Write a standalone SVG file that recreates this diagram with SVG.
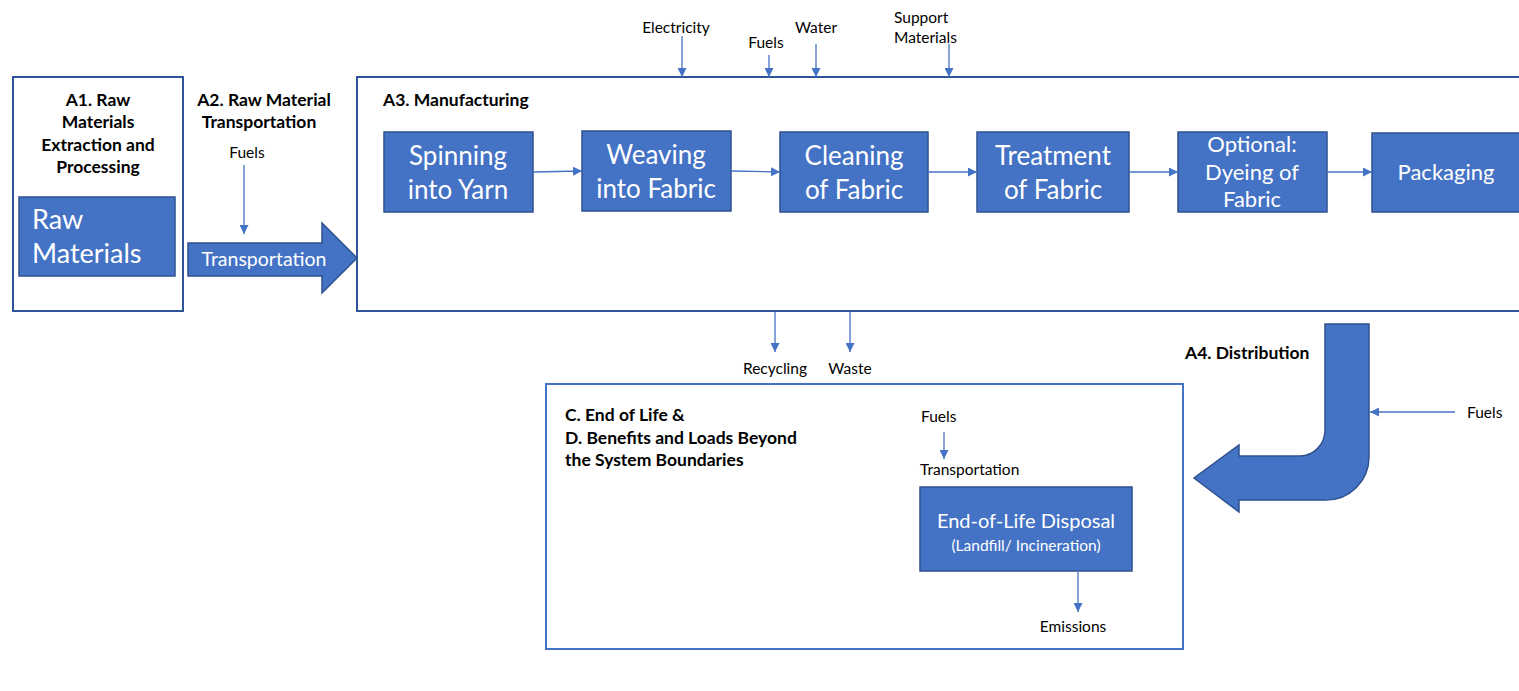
<svg xmlns="http://www.w3.org/2000/svg" width="1519" height="691" viewBox="0 0 1519 691">
<defs>
<marker id="ah" viewBox="0 0 10 10" refX="10" refY="5" markerWidth="9" markerHeight="9" markerUnits="userSpaceOnUse" orient="auto">
<path d="M0,0 L10,5 L0,10 Z" fill="#4472C4"/>
</marker>
<style>
.frame{fill:#fff;stroke:#2F5597;stroke-width:2}
.frame2{fill:#fff;stroke:#4472C4;stroke-width:2}
.box{fill:#4472C4;stroke:#2F528F;stroke-width:1.5}
.conn{stroke:#4472C4;stroke-width:1.3;fill:none;marker-end:url(#ah)}
.t{font-family:Lato,"Open Sans",sans-serif;fill:#000}
.lbl{font-size:15.5px}
.hd{font-size:17.5px;font-weight:bold}
.w{font-family:Lato,"Open Sans",sans-serif;fill:#fff}
.big{font-size:26px}
.mid{font-size:22px}
</style>
</defs>
<rect width="1519" height="691" fill="#fff"/>

<g id="a1">
<rect class="frame" x="13" y="77" width="170" height="234"/>
<text class="t hd" text-anchor="middle"><tspan x="98" y="106">A1. Raw</tspan><tspan x="98" y="128">Materials</tspan><tspan x="98" y="151">Extraction and</tspan><tspan x="98" y="173">Processing</tspan></text>
</g>
<g id="raw-materials">
<rect class="box" x="19" y="197" width="156" height="79"/>
<text class="w" font-size="27"><tspan x="32" y="229">Raw</tspan><tspan x="32" y="263">Materials</tspan></text>
</g>

<g id="a2">
<text class="t hd" text-anchor="middle"><tspan x="264" y="106">A2. Raw Material</tspan><tspan x="259" y="128">Transportation</tspan></text>
<text class="t lbl" x="247" y="158" text-anchor="middle">Fuels</text>
</g>
<g id="transportation">
<path class="box" d="M188,243 L322,243 L322,223 L357,258 L322,293 L322,276 L188,276 Z"/>
<text class="w" font-size="19.5" x="264" y="266" text-anchor="middle">Transportation</text>
</g>

<g id="a3">
<rect class="frame" x="357" y="77" width="1175" height="234"/>
<text class="t hd" x="383" y="106">A3. Manufacturing</text>
</g>
<g id="spinning">
<rect class="box" x="384" y="132" width="149" height="80"/>
<text class="w big" text-anchor="middle"><tspan x="458" y="165">Spinning</tspan><tspan x="458" y="199">into Yarn</tspan></text>
</g>
<g id="weaving">
<rect class="box" x="582" y="131" width="149" height="80"/>
<text class="w big" text-anchor="middle"><tspan x="656" y="164">Weaving</tspan><tspan x="656" y="198">into Fabric</tspan></text>
</g>
<g id="cleaning">
<rect class="box" x="780" y="132" width="148" height="80"/>
<text class="w big" text-anchor="middle"><tspan x="854" y="165">Cleaning</tspan><tspan x="854" y="199">of Fabric</tspan></text>
</g>
<g id="treatment">
<rect class="box" x="977" y="132" width="152" height="80"/>
<text class="w big" text-anchor="middle"><tspan x="1053" y="165">Treatment</tspan><tspan x="1053" y="199">of Fabric</tspan></text>
</g>
<g id="dyeing">
<rect class="box" x="1178" y="132" width="149" height="80"/>
<text class="w mid" text-anchor="middle"><tspan x="1252" y="152">Optional:</tspan><tspan x="1252" y="180">Dyeing of</tspan><tspan x="1252" y="207">Fabric</tspan></text>
</g>
<g id="packaging">
<rect class="box" x="1372" y="133" width="160" height="79"/>
<text class="w mid" x="1446" y="180" text-anchor="middle">Packaging</text>
</g>

<g id="inputs">
<text class="t lbl" x="676" y="33" text-anchor="middle">Electricity</text>
<text class="t lbl" x="766" y="48" text-anchor="middle">Fuels</text>
<text class="t lbl" x="816" y="33" text-anchor="middle">Water</text>
<text class="t lbl"><tspan x="894" y="23">Support</tspan><tspan x="894" y="43">Materials</tspan></text>
</g>

<g id="outputs">
<text class="t lbl" x="775" y="374" text-anchor="middle">Recycling</text>
<text class="t lbl" x="850" y="374" text-anchor="middle">Waste</text>
</g>

<g id="a4">
<text class="t hd" x="1185" y="359">A4. Distribution</text>
<path class="box" d="M1325,324 L1369,324 L1369,457 A43,43 0 0 1 1326,500 L1239,500 L1239,512 L1194,478 L1239,445 L1239,456 L1300,456 A25,26 0 0 0 1325,430 Z"/>
<text class="t lbl" x="1467" y="418">Fuels</text>
</g>

<g id="c-d">
<rect class="frame2" x="546" y="384" width="637" height="265"/>
<text class="t hd"><tspan x="565" y="421">C. End of Life &amp;</tspan><tspan x="565" y="444">D. Benefits and Loads Beyond</tspan><tspan x="565" y="466">the System Boundaries</tspan></text>
<text class="t lbl" x="921" y="422">Fuels</text>
<text class="t lbl" x="920" y="475">Transportation</text>
</g>
<g id="eol">
<rect class="box" x="920" y="487" width="212" height="84"/>
<text class="w" text-anchor="middle"><tspan x="1026" y="528" font-size="20">End-of-Life Disposal</tspan><tspan x="1026" y="551" font-size="15.5">(Landfill/ Incineration)</tspan></text>
<text class="t lbl" x="1073" y="632" text-anchor="middle">Emissions</text>
</g>

<g id="connectors">
<line class="conn" x1="244" y1="165" x2="244" y2="234"/>
<line class="conn" x1="533" y1="172" x2="582" y2="171"/>
<line class="conn" x1="731" y1="171" x2="780" y2="172"/>
<line class="conn" x1="928" y1="172" x2="977" y2="172"/>
<line class="conn" x1="1129" y1="172" x2="1178" y2="172"/>
<line class="conn" x1="1327" y1="172" x2="1372" y2="172"/>
<line class="conn" x1="682" y1="36" x2="682" y2="77"/>
<line class="conn" x1="769" y1="55" x2="769" y2="77"/>
<line class="conn" x1="816" y1="44" x2="816" y2="77"/>
<line class="conn" x1="949" y1="44" x2="949" y2="77"/>
<line class="conn" x1="775" y1="312" x2="775" y2="352"/>
<line class="conn" x1="850" y1="312" x2="850" y2="352"/>
<line class="conn" x1="1455" y1="412" x2="1370" y2="412"/>
<line class="conn" x1="944" y1="432" x2="944" y2="459"/>
<line class="conn" x1="1078" y1="572" x2="1078" y2="612"/>
</g>
</svg>
